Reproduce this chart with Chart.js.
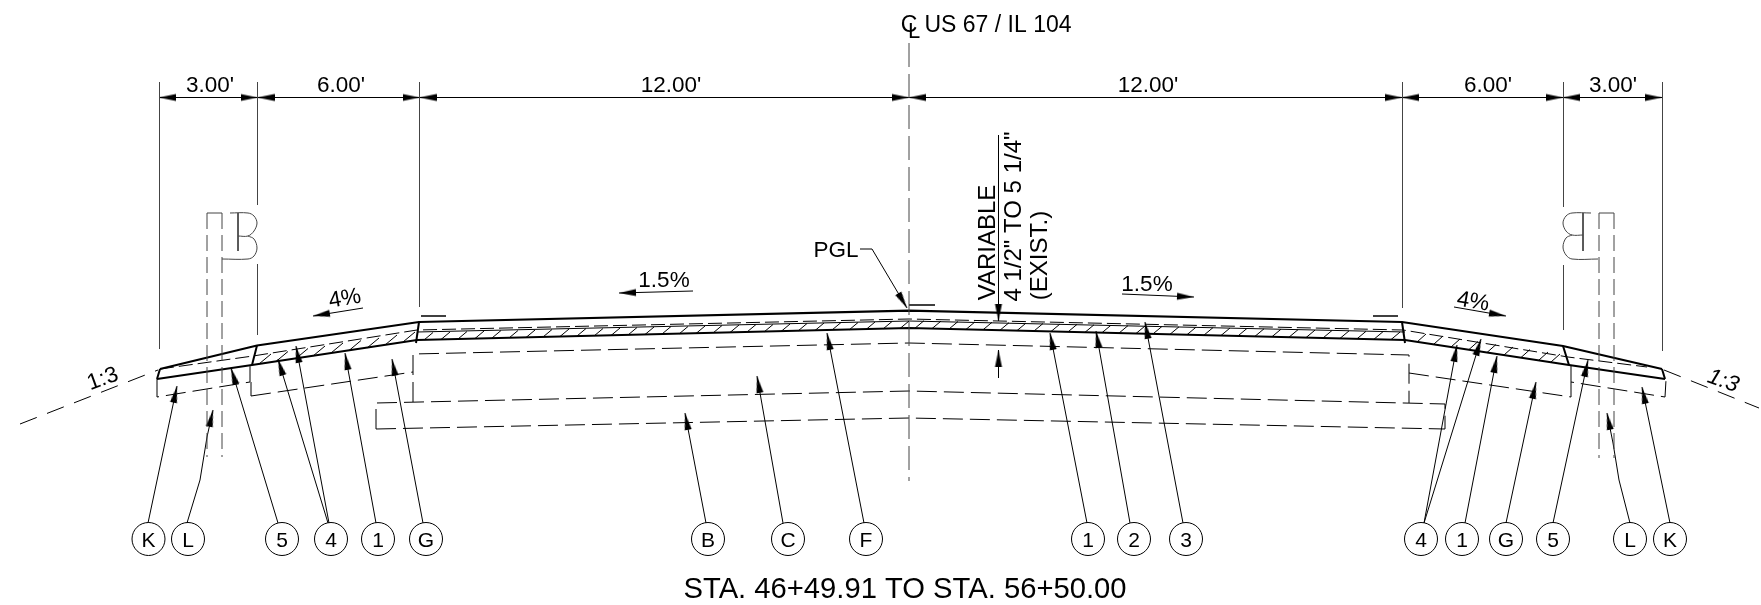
<!DOCTYPE html>
<html>
<head>
<meta charset="utf-8">
<title>Typical section</title>
<script src="https://cdn.jsdelivr.net/npm/chart.js@4"></script>
<style>
  html, body { margin: 0; padding: 0; background: #fff; }
  canvas { display: block; }
</style>
</head>
<body>
<canvas id="section" width="1761" height="605"></canvas>
<script>
// all values are in sheet units (origin top left)

// dimension row
const dimRow = [[159, 97.5], [1662, 97.5]];
const dimTicks = [159, 257.5, 419.5, 909, 1402, 1563, 1662];
const dimLabels = ["3.00'", "6.00'", "12.00'", "12.00'", "6.00'", "3.00'"];
const dimLabelX = [210, 341, 671, 1148, 1488, 1613];
const extA = [[159.5, 82], [159.5, 349]];
const extB = [[257.5, 82], [257.5, 205]];
const extC = [[257.5, 264], [257.5, 335]];
const extD = [[419.5, 82], [419.5, 307]];
const extE = [[1402.5, 82], [1402.5, 308]];
const extF = [[1563.5, 82], [1563.5, 207]];
const extG = [[1563.5, 265], [1563.5, 330]];
const extH = [[1662.5, 82], [1662.5, 351]];
const centerLine = [[909, 43], [909, 481]];

// pavement surface
const surface = [[160, 369], [257, 345.5], [419, 322], [909, 310.7], [1402, 322], [1563, 346], [1662, 369]];
const slopeLeft = [[20, 424], [158, 370]];
const slopeRight = [[1664, 370], [1759, 408]];
const hatchBottom = [[157, 379], [252, 365], [417, 340], [909, 328], [1405, 340], [1569, 365], [1665, 379]];
const hatchTopSolid = [[417, 332], [909, 321], [1405, 332]];
const hatchTopDash = [[160, 369], [253, 356], [417, 330], [909, 319], [1403, 330], [1568, 357], [1647, 367]];
const stepA = [[160, 369], [157, 379]];
const stepB = [[257, 345.5], [252, 365]];
const stepC = [[419, 322], [416, 343]];
const stepD = [[1402, 322], [1405, 343]];
const stepE = [[1563, 346], [1569, 365]];
const stepF = [[1662, 369], [1665, 379]];

// hatch strokes: foot on the band's lower edge, head on its upper edge
const hatchFeet = [
  [424, 340], [441, 339.5], [458, 339], [475, 338.5], [492, 338], [509, 338], [526, 337.5], [543, 337], [560, 336.5],
  [577, 336], [594, 336], [611, 335.5], [628, 335], [645, 334.5], [662, 334], [679, 334], [696, 333.5], [713, 333],
  [730, 332.5], [747, 332], [764, 332], [781, 331.5], [798, 331], [815, 330.5], [832, 330], [849, 330], [866, 329.5],
  [883, 329], [900, 328.5], [915, 328.2], [932, 328.6], [949, 329], [966, 329.4], [983, 329.8], [1000, 330.2],
  [1017, 330.6], [1034, 331], [1051, 331.5], [1068, 331.9], [1085, 332.3], [1102, 332.7], [1119, 333.1], [1136, 333.5],
  [1153, 333.9], [1170, 334.3], [1187, 334.7], [1204, 335.1], [1221, 335.5], [1238, 335.9], [1255, 336.3], [1272, 336.7],
  [1289, 337.2], [1306, 337.6], [1323, 338], [1340, 338.4], [1357, 338.8], [1374, 339.2], [1391, 339.6]
];
const hatchFeetLeft = [[259, 364], [276, 361.5], [296, 358.5], [313, 356], [331, 353], [349, 350.5], [367, 348], [385, 345], [403, 342]];
const hatchFeetRight = [[1417, 342], [1434, 344], [1451, 347], [1469, 349.5], [1487, 352.5], [1504, 355], [1521, 357.5], [1539, 360], [1551, 362]];

// existing layers, dashed
const layerUpper = [[251, 396], [251, 382]];
const layerMain = [[413, 402], [413, 354], [909, 343], [1409, 355], [1409, 403]];
const layerRight = [[1409, 373], [1571, 397], [1571, 382]];
const layerLeftA = [[251, 396], [413, 372]];
const shoulderL = [[157, 379], [157, 397], [250, 382], [250, 365]];
const shoulderR = [[1571, 365], [1571, 382], [1665, 397], [1666, 380]];
const baseTop = [[376, 429], [376, 403], [909, 391], [1445, 404], [1445, 429]];
const baseBottom = [[376, 429], [909, 418], [1445, 429]];

// guardrail posts and blocks
const postLeftA = [[207, 213], [207, 457]];
const postLeftB = [[222, 213], [222, 457]];
const postLeftTop = [[207, 213], [222, 213]];
const postRightA = [[1599, 213], [1599, 458]];
const postRightB = [[1614, 213], [1614, 458]];
const postRightTop = [[1599, 213], [1614, 213]];
const curbLeftA = [[230, 213], [248, 213], [254, 216], [257, 223], [254, 231], [248, 236], [238, 236]];
const curbLeftB = [[248, 236], [254, 239], [257, 248], [254, 256], [248, 259], [222, 259]];
const curbLeftC = [[238, 213], [238, 251]];
const curbRightA = [[1591, 213], [1572, 213], [1566, 216], [1563, 223], [1566, 231], [1572, 235], [1583, 235]];
const curbRightB = [[1572, 235], [1566, 238], [1563, 247], [1566, 255], [1572, 259], [1598, 259]];
const curbRightC = [[1583, 213], [1583, 251]];

// grade marks
const markLeft = [[421, 316], [446, 316]];
const markCenter = [[909, 305], [935, 305]];
const markRight = [[1373, 316], [1398, 316]];

// slope arrows: tail to tip
const gradeA = [[363, 308], [313, 316]];
const gradeB = [[693, 291], [619, 293]];
const gradeC = [[1122, 294], [1194, 297]];
const gradeD = [[1454, 307], [1506, 316]];
const pglLeader = [[860, 249], [872, 249], [907, 308]];
const varTop = [[998.5, 135], [998.5, 321]];
const varBottom = [[998.5, 378], [998.5, 350]];

// callouts: balloon letter, balloon centre, leader
const calloutText = ['K', 'L', '5', '4', '1', 'G', 'B', 'C', 'F', '1', '2', '3', '4', '1', 'G', '5', 'L', 'K'];
const calloutX = [148.5, 188, 282, 331, 378, 426, 708, 788, 866, 1088, 1134, 1186, 1421, 1462, 1506, 1553, 1630, 1670];
const calloutY = 539;
const leaders = [
  [[148, 523], [177, 386]],
  [[187, 523], [200, 480], [207, 437], [213, 410]],
  [[278, 523], [231, 368]],
  [[328, 523], [278, 359]],
  [[329, 523], [296, 346]],
  [[376, 523], [345, 353]],
  [[423, 523], [392, 359]],
  [[706, 523], [685, 413]],
  [[783, 523], [757, 376]],
  [[864, 523], [827, 333]],
  [[1087, 523], [1050, 333]],
  [[1130, 523], [1096, 331]],
  [[1183, 523], [1145, 322]],
  [[1424, 523], [1457, 345]],
  [[1424, 523], [1481, 339]],
  [[1465, 523], [1497, 356]],
  [[1506, 523], [1536, 382]],
  [[1553, 523], [1588, 360]],
  [[1630, 523], [1619, 480], [1613, 443], [1607, 413]],
  [[1670, 523], [1642, 387]]
];

// free text
const notes = [
  { text: 'C', x: 909, y: 32, size: 23 },
  { text: 'L', x: 914, y: 38, size: 22 },
  { text: 'US 67 / IL 104', x: 998, y: 32, size: 23 },
  { text: 'PGL', x: 836, y: 257, size: 22.5 },
  { text: '1.5%', x: 664, y: 287, size: 22.5 },
  { text: '1.5%', x: 1147, y: 291, size: 22.5 },
  { text: '4%', x: 346, y: 305, size: 22.5, rot: -10 },
  { text: '4%', x: 1472, y: 308, size: 22.5, rot: 10 },
  { text: '1:3', x: 105, y: 385, size: 22.5, rot: -20 },
  { text: '1:3', x: 1721, y: 387, size: 22.5, rot: 20, italic: true },
  { text: 'VARIABLE', x: 995, y: 242.5, size: 24, rot: -90 },
  { text: '4 1/2" TO 5 1/4"', x: 1021, y: 216.5, size: 24, rot: -90 },
  { text: '(EXIST.)', x: 1047, y: 255.5, size: 24, rot: -90 },
  { text: 'STA. 46+49.91 TO STA. 56+50.00', x: 905, y: 598, size: 29.2 }
];

const BLACK = '#000';
const GREY = '#444';
const SANS = '"Liberation Sans", Arial, sans-serif';

// the tip sits on the canvas centre so a point marks the arrow's tip
function arrowImage(len, wide) {
  const c = document.createElement('canvas');
  c.width = c.height = len * 2;
  const g = c.getContext('2d');
  g.fillStyle = BLACK;
  g.beginPath();
  g.moveTo(len, len);
  g.lineTo(0, len - wide / 2);
  g.lineTo(0, len + wide / 2);
  g.closePath();
  g.fill();
  return c;
}

function toPoints(list) {
  return list.map(p => ({ x: p[0], y: p[1] }));
}

const datasets = [];
function stroke(list, color, width, dash, tension) {
  datasets.push({
    data: toPoints(list),
    showLine: true,
    borderColor: color,
    borderWidth: width,
    borderDash: dash || [],
    tension: tension || 0,
    pointRadius: 0,
    pointHoverRadius: 0
  });
}

// extension lines
[extA, extB, extC, extD, extE, extF, extG, extH].forEach(l => stroke(l, GREY, 1));
stroke(centerLine, GREY, 1, [24, 7]);
stroke(dimRow, BLACK, 1.2);

// posts and blocks
[postLeftA, postLeftB, postLeftTop, postRightA, postRightB, postRightTop].forEach(l => stroke(l, GREY, 1, [16, 6]));
[curbLeftA, curbLeftB, curbRightA, curbRightB].forEach(l => stroke(l, GREY, 1, null, 0.35));
[curbLeftC, curbRightC].forEach(l => stroke(l, GREY, 1));

// layers
[layerUpper, layerMain, layerRight, layerLeftA, shoulderL, shoulderR, baseTop, baseBottom]
  .forEach(l => stroke(l, BLACK, 1, [20, 7]));
stroke(slopeLeft, BLACK, 1, [18, 11]);
stroke(slopeRight, BLACK, 1, [18, 11]);

// pavement
hatchFeet.forEach(f => stroke([f, [f[0] + 9, f[1] - 7.5]], BLACK, 1));
hatchFeetLeft.forEach(f => stroke([f, [f[0] + 12, f[1] - 10]], BLACK, 1));
hatchFeetRight.forEach(f => stroke([f, [f[0] + 9, f[1] - 8]], BLACK, 1));
stroke(hatchTopSolid, BLACK, 1);
stroke(hatchTopDash, BLACK, 1, [14, 5]);
stroke(hatchBottom, BLACK, 2.2);
stroke(surface, BLACK, 2.2);
[stepA, stepB, stepC, stepD, stepE, stepF].forEach(l => stroke(l, BLACK, 2));
[markLeft, markCenter, markRight].forEach(l => stroke(l, BLACK, 1.5));

// arrow shafts
const arrowed = [gradeA, gradeB, gradeC, gradeD, pglLeader, varTop, varBottom].concat(leaders);
arrowed.forEach(l => stroke(l, BLACK, 1));

// arrow heads sit on the last point of each shaft
const head = arrowImage(17, 7);
const tips = arrowed.map(l => {
  const a = l[l.length - 2], b = l[l.length - 1];
  return { x: b[0], y: b[1], rot: Math.atan2(b[1] - a[1], b[0] - a[0]) * 180 / Math.PI };
});
dimTicks.forEach((x, i) => {
  if (i > 0) tips.push({ x: x, y: dimRow[0][1], rot: 0 });
  if (i < dimTicks.length - 1) tips.push({ x: x, y: dimRow[0][1], rot: 180 });
});
datasets.push({
  data: tips.map(t => ({ x: t.x, y: t.y })),
  showLine: false,
  pointStyle: head,
  pointRadius: 5,
  pointRotation: tips.map(t => t.rot)
});

// balloons
datasets.push({
  data: calloutX.map(x => ({ x: x, y: calloutY })),
  showLine: false,
  pointStyle: 'circle',
  pointRadius: 16.5,
  pointBorderColor: BLACK,
  pointBorderWidth: 1,
  pointBackgroundColor: 'rgba(0,0,0,0)'
});

const textPlugin = {
  id: 'sheetText',
  afterDatasetsDraw(chart) {
    const ctx = chart.ctx, xs = chart.scales.x, ys = chart.scales.y;
    function put(n) {
      ctx.save();
      ctx.translate(xs.getPixelForValue(n.x), ys.getPixelForValue(n.y));
      if (n.rot) ctx.rotate(n.rot * Math.PI / 180);
      ctx.font = (n.italic ? 'italic ' : '') + n.size + 'px ' + SANS;
      ctx.fillStyle = BLACK;
      ctx.textAlign = 'center';
      ctx.textBaseline = 'alphabetic';
      ctx.fillText(n.text, 0, 0);
      ctx.restore();
    }
    notes.forEach(put);
    dimLabels.forEach((t, i) => put({ text: t, x: dimLabelX[i], y: 92, size: 22.5 }));
    calloutText.forEach((t, i) => put({ text: t, x: calloutX[i], y: calloutY + 8, size: 21 }));
  }
};

new Chart(document.getElementById('section').getContext('2d'), {
  type: 'scatter',
  data: { datasets: datasets },
  plugins: [textPlugin],
  options: {
    responsive: false,
    animation: false,
    events: [],
    layout: { padding: 0, autoPadding: false },
    plugins: { legend: { display: false }, tooltip: { enabled: false } },
    scales: {
      x: { type: 'linear', min: 0, max: 1761, display: false },
      y: { type: 'linear', min: 0, max: 605, reverse: true, display: false }
    }
  }
});
</script>
</body>
</html>
